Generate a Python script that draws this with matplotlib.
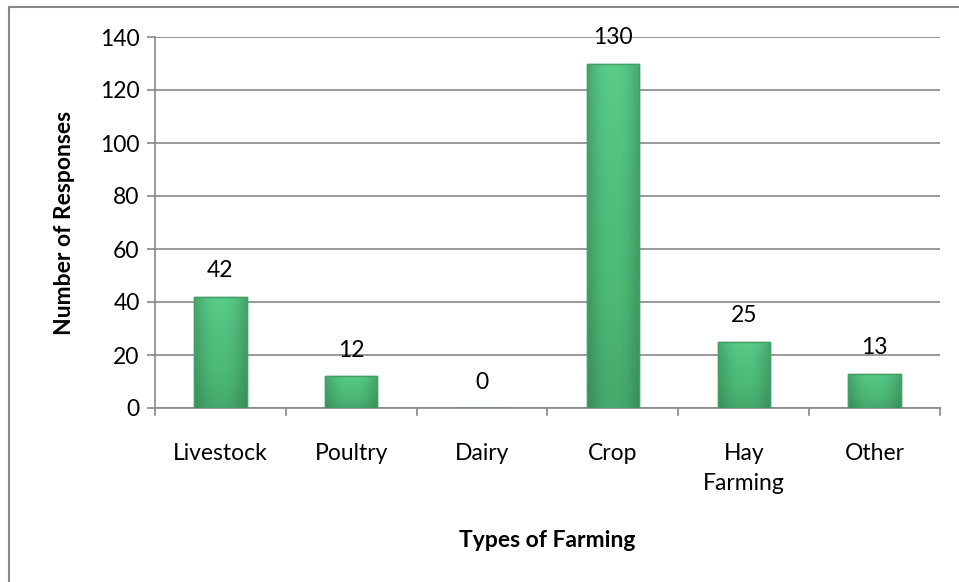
import matplotlib
matplotlib.use("Agg")
import matplotlib.pyplot as plt
import numpy as np
from matplotlib.colors import LinearSegmentedColormap
from matplotlib.patches import Rectangle
from matplotlib.lines import Line2D

categories = ["Livestock", "Poultry", "Dairy", "Crop", "Hay\nFarming", "Other"]
values = [42, 12, 0, 130, 25, 13]
yticks = [0, 20, 40, 60, 80, 100, 120, 140]

plt.rcParams['font.family'] = ['Lato', 'DejaVu Sans']
FS = 16.5

fig = plt.figure(figsize=(9.59, 5.82), dpi=100)
ax = fig.add_axes([155/959, 1-408/582, (940-155)/959, (408-37)/582])

x = np.arange(len(categories))
bars = ax.bar(x, values, width=0.4, color="#4fbf7c", edgecolor="#3f9f66", linewidth=1.0, zorder=3)

cmap = LinearSegmentedColormap.from_list("g", ["#45a86c", "#4db975", "#52c07e", "#5acb88"])
grad = np.linspace(0, 1, 256).reshape(-1, 1)
for b, v in zip(bars, values):
    if v <= 0:
        continue
    x0, w, h = b.get_x(), b.get_width(), b.get_height()
    im = ax.imshow(grad, cmap=cmap, aspect="auto", origin="lower",
                   extent=[x0, x0 + w, 0, h], zorder=3.5)
    im.set_clip_path(b)
    hg = (np.abs(np.linspace(-1, 1, 64)) ** 3).reshape(1, -1)
    im2 = ax.imshow(hg, cmap=LinearSegmentedColormap.from_list("s", [(0, 0, 0, 0), (0.1, 0.35, 0.2, 0.3)]),
                    aspect="auto", extent=[x0, x0 + w, 0, h], zorder=3.6)
    im2.set_clip_path(b)
    ax.add_patch(Rectangle((x0, 0), w, h, fill=False, edgecolor="#40a066", linewidth=1.0, zorder=3.7))

for xi, v in zip(x, values):
    ax.annotate(str(v), (xi, v), xytext=(0, 11), textcoords="offset points",
                ha="center", va="bottom", fontsize=FS, color="black", zorder=5)

ax.set_xlim(-0.5, len(categories) - 0.5)
ax.set_ylim(0, 140)
ax.set_yticks(yticks)
ax.set_yticklabels([str(t) for t in yticks], fontsize=FS)
ax.set_xticks(x)
ax.set_xticklabels(categories, fontsize=FS, linespacing=1.55)
for lbl in ax.get_xticklabels():
    lbl.set_verticalalignment("top")
ax.tick_params(axis="x", length=0, pad=25)
ax.tick_params(axis="y", length=6, color="#888888", width=1.2, pad=5)
for xb in np.arange(-0.5, len(categories), 1):
    ax.add_line(Line2D([xb, xb], [0, -0.018], transform=ax.get_xaxis_transform(),
                       color="#888888", linewidth=1.2, clip_on=False))

ax.grid(axis="y", color="#888888", linewidth=1.2, zorder=0)
ax.set_axisbelow(True)
for s in ["top", "right"]:
    ax.spines[s].set_visible(False)
for s in ["left", "bottom"]:
    ax.spines[s].set_color("#888888")
    ax.spines[s].set_linewidth(1.2)

ax.set_xlabel("Types of Farming", fontsize=FS, fontweight="bold", labelpad=26)
ax.set_ylabel("Number of Responses", fontsize=FS, fontweight="bold", labelpad=18)

fig.add_artist(Line2D([8.5/959, 8.5/959], [0, 1-7/582], transform=fig.transFigure, color="#888888", linewidth=1.5))
fig.add_artist(Line2D([8.5/959, 1], [1-7/582, 1-7/582], transform=fig.transFigure, color="#888888", linewidth=1.5))

fig.savefig("out.png", dpi=100)
